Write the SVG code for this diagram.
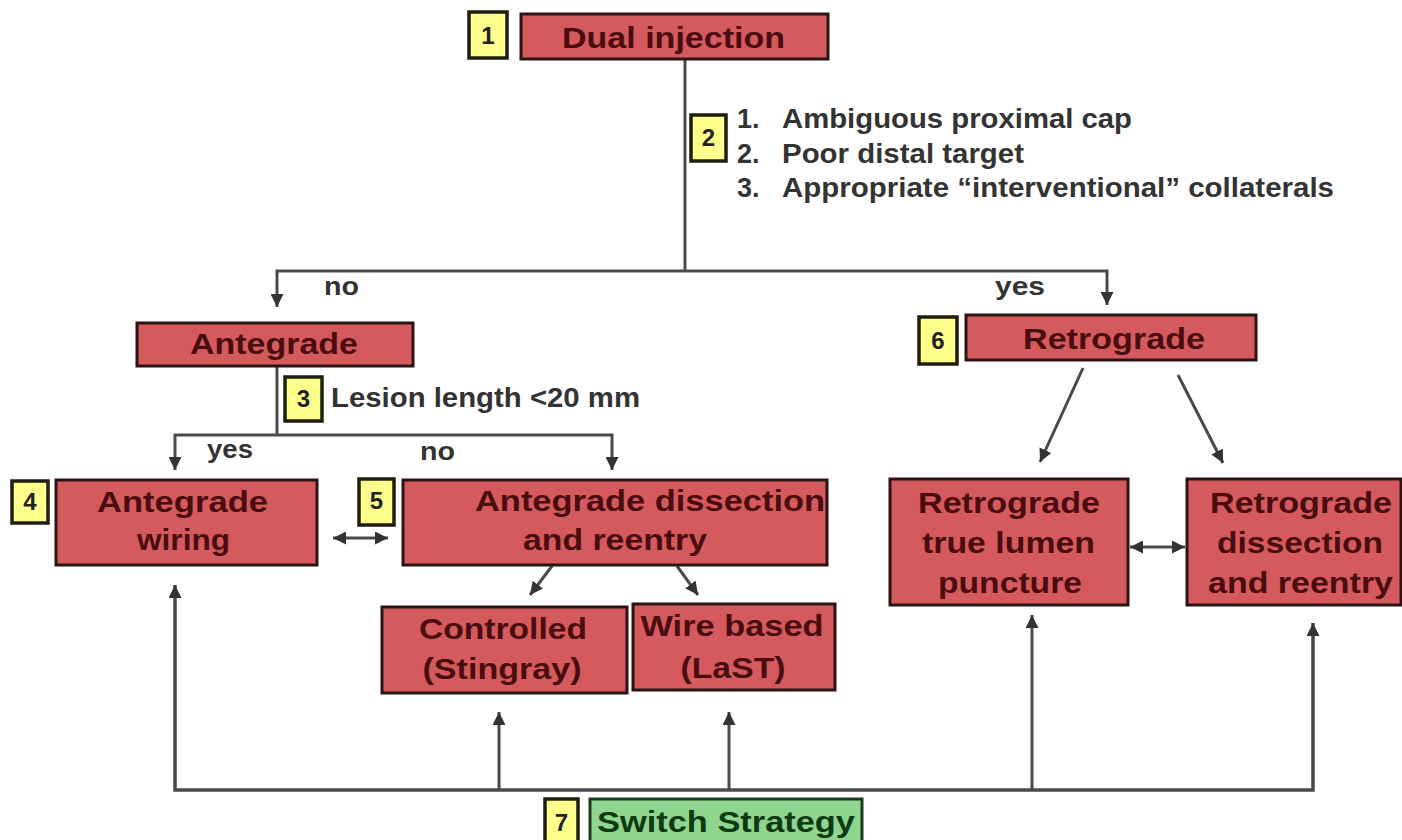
<svg xmlns="http://www.w3.org/2000/svg" width="1402" height="840" viewBox="0 0 1402 840">
<style>
.box{fill:#d45a5e;stroke:#2b1414;stroke-width:3}
.green{fill:#8fd48f;stroke:#1c3a1c;stroke-width:3}
.badge{fill:#ffff8c;stroke:#1e1e10;stroke-width:3.5}
.bt{font-family:"Liberation Sans",Arial,sans-serif;font-weight:bold;font-size:30px;fill:#4a0c0e;text-anchor:middle}
.gt{font-family:"Liberation Sans",Arial,sans-serif;font-weight:bold;font-size:30px;fill:#0e3a10;text-anchor:middle}
.num{font-family:"Liberation Sans",Arial,sans-serif;font-weight:bold;font-size:24px;fill:#222;text-anchor:middle}
.lbl{font-family:"Liberation Sans",Arial,sans-serif;font-weight:bold;font-size:27px;fill:#333}
.yn{font-family:"Liberation Sans",Arial,sans-serif;font-weight:bold;font-size:25px;fill:#333}
.ln{fill:none;stroke:#4a4a4a;stroke-width:3}
</style>
<defs>
<marker id="ah" viewBox="0 0 10 10" refX="10" refY="5" markerUnits="userSpaceOnUse" markerWidth="13" markerHeight="13" orient="auto-start-reverse">
<path d="M0,0 L10,5 L0,10 z" fill="#333"/>
</marker>
</defs>
<rect width="1402" height="840" fill="#ffffff"/>
<g id="connectors">
<path class="ln" d="M685 59 V271"/>
<path class="ln" d="M277 307 V271 H1107 V305" marker-start="url(#ah)" marker-end="url(#ah)"/>
<path class="ln" d="M277 366 V435"/>
<path class="ln" d="M175 470 V435 H612 V470" marker-start="url(#ah)" marker-end="url(#ah)"/>
<path class="ln" d="M333 538 H388" marker-start="url(#ah)" marker-end="url(#ah)"/>
<path class="ln" d="M552 566 L530 595" marker-end="url(#ah)"/>
<path class="ln" d="M677 566 L698 595" marker-end="url(#ah)"/>
<path class="ln" d="M1083 368 L1040 462" marker-end="url(#ah)"/>
<path class="ln" d="M1178 375 L1223 463" marker-end="url(#ah)"/>
<path class="ln" d="M1130 547 H1185" marker-start="url(#ah)" marker-end="url(#ah)"/>
<path class="ln" d="M175 585 V790 H1313 V623" marker-start="url(#ah)" marker-end="url(#ah)" style="stroke-width:3.5"/>
<path class="ln" d="M499 790 V712" marker-end="url(#ah)"/>
<path class="ln" d="M729 790 V712" marker-end="url(#ah)"/>
<path class="ln" d="M1032 790 V615" marker-end="url(#ah)"/>
<text class="yn" x="324" y="295" textLength="35" lengthAdjust="spacingAndGlyphs">no</text>
<text class="yn" x="995" y="295" textLength="50" lengthAdjust="spacingAndGlyphs">yes</text>
<text class="yn" x="207" y="458" textLength="46" lengthAdjust="spacingAndGlyphs">yes</text>
<text class="yn" x="420" y="460" textLength="35" lengthAdjust="spacingAndGlyphs">no</text>
</g>
<g id="node1">
<rect class="badge" x="469" y="12" width="38" height="46"/>
<text class="num" x="488" y="44">1</text>
<rect class="box" x="521" y="14" width="307" height="45"/>
<text class="bt" x="673.5" y="48" textLength="223" lengthAdjust="spacingAndGlyphs">Dual injection</text>
</g>
<g id="node2">
<rect class="badge" x="691" y="115" width="35" height="46"/>
<text class="num" x="708.5" y="146">2</text>
<text class="lbl" x="737" y="128">1.</text>
<text class="lbl" x="782" y="128" textLength="350" lengthAdjust="spacingAndGlyphs">Ambiguous proximal cap</text>
<text class="lbl" x="737" y="163">2.</text>
<text class="lbl" x="782" y="163" textLength="242" lengthAdjust="spacingAndGlyphs">Poor distal target</text>
<text class="lbl" x="737" y="197">3.</text>
<text class="lbl" x="782" y="197" textLength="552" lengthAdjust="spacingAndGlyphs">Appropriate “interventional” collaterals</text>
</g>
<g id="antegrade">
<rect class="box" x="137" y="323" width="276" height="43"/>
<text class="bt" x="274" y="354" textLength="168" lengthAdjust="spacingAndGlyphs">Antegrade</text>
</g>
<g id="node3">
<rect class="badge" x="285" y="377" width="37" height="44"/>
<text class="num" x="303.5" y="407">3</text>
<text class="lbl" x="331" y="407" textLength="309" lengthAdjust="spacingAndGlyphs">Lesion length &lt;20 mm</text>
</g>
<g id="node4">
<rect class="badge" x="12" y="481" width="36" height="42"/>
<text class="num" x="30" y="510">4</text>
<rect class="box" x="56" y="480" width="261" height="85"/>
<text class="bt" x="182.5" y="512" textLength="171" lengthAdjust="spacingAndGlyphs">Antegrade</text>
<text class="bt" x="183.5" y="550" textLength="93" lengthAdjust="spacingAndGlyphs">wiring</text>
</g>
<g id="node5">
<rect class="badge" x="359" y="479" width="35" height="46"/>
<text class="num" x="376.5" y="509">5</text>
<rect class="box" x="403" y="480" width="424" height="85"/>
<text class="bt" x="650" y="511" textLength="350" lengthAdjust="spacingAndGlyphs">Antegrade dissection</text>
<text class="bt" x="615" y="550" textLength="184" lengthAdjust="spacingAndGlyphs">and reentry</text>
</g>
<g id="controlled">
<rect class="box" x="382" y="607" width="245" height="86"/>
<text class="bt" x="503" y="639" textLength="168" lengthAdjust="spacingAndGlyphs">Controlled</text>
<text class="bt" x="502" y="679" textLength="159" lengthAdjust="spacingAndGlyphs">(Stingray)</text>
</g>
<g id="wirebased">
<rect class="box" x="633" y="604" width="202" height="86"/>
<text class="bt" x="732" y="636" textLength="183" lengthAdjust="spacingAndGlyphs">Wire based</text>
<text class="bt" x="733" y="678" textLength="105" lengthAdjust="spacingAndGlyphs">(LaST)</text>
</g>
<g id="node6">
<rect class="badge" x="919" y="317" width="38" height="47"/>
<text class="num" x="938" y="349">6</text>
<rect class="box" x="966" y="315" width="290" height="45"/>
<text class="bt" x="1114" y="349" textLength="182" lengthAdjust="spacingAndGlyphs">Retrograde</text>
</g>
<g id="rtlp">
<rect class="box" x="890" y="479" width="238" height="126"/>
<text class="bt" x="1009" y="513" textLength="182" lengthAdjust="spacingAndGlyphs">Retrograde</text>
<text class="bt" x="1008.5" y="553" textLength="173" lengthAdjust="spacingAndGlyphs">true lumen</text>
<text class="bt" x="1010" y="593" textLength="144" lengthAdjust="spacingAndGlyphs">puncture</text>
</g>
<g id="rdr">
<rect class="box" x="1187" y="479" width="214" height="126"/>
<text class="bt" x="1301" y="513" textLength="182" lengthAdjust="spacingAndGlyphs">Retrograde</text>
<text class="bt" x="1300" y="553" textLength="166" lengthAdjust="spacingAndGlyphs">dissection</text>
<text class="bt" x="1300.5" y="593" textLength="185" lengthAdjust="spacingAndGlyphs">and reentry</text>
</g>
<g id="node7">
<rect class="badge" x="545" y="799" width="33" height="50"/>
<text class="num" x="561.5" y="831">7</text>
<rect class="green" x="590" y="799" width="272" height="50"/>
<text class="gt" x="726" y="832" textLength="258" lengthAdjust="spacingAndGlyphs">Switch Strategy</text>
</g>
</svg>
